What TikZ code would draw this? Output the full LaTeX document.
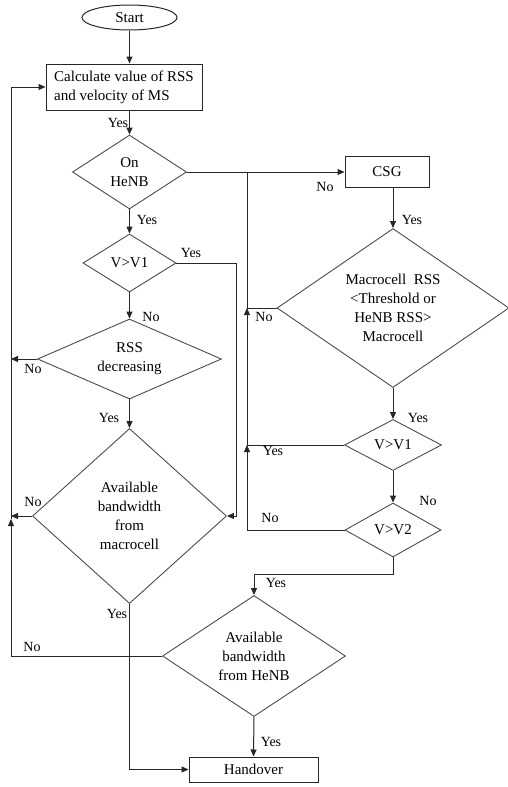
\documentclass[tikz,border=0pt]{standalone}
\usepackage{fontspec}
\setmainfont{Liberation Serif}
\usetikzlibrary{shapes.geometric,arrows.meta}
\newcommand\nodefont{\fontsize{15}{19}\selectfont}
\newcommand\labfont{\fontsize{14}{16}\selectfont}
\tikzset{
  ln/.style={draw=black!85, line width=1pt},
  arr/.style={ln, -{Triangle[length=7pt,width=6pt]}},
  dia/.style={diamond, draw=black!70, line width=0.9pt, inner sep=0pt, align=center, font=\nodefont},
  boxn/.style={rectangle, draw=black!85, line width=1pt, inner sep=0pt, align=center, font=\nodefont},
  lab/.style={inner sep=0pt, font=\labfont}
}
\begin{document}
\begin{tikzpicture}[x=1pt,y=-1pt]
\useasboundingbox (0,0) rectangle (508,787);
% nodes
\node[ellipse, draw=black!85, line width=1pt, minimum width=95pt, minimum height=25pt, inner sep=0pt, font=\nodefont] (start) at (129.5,17.5) {Start};
\node[boxn, minimum width=156pt, minimum height=46pt, align=left] (calc) at (124,87) {Calculate value of RSS\\and velocity of MS};
\node[dia, minimum width=114pt, minimum height=74pt, aspect=1.54] (onh) at (129.5,172) {On\\HeNB};
\node[dia, minimum width=93pt, minimum height=58pt, aspect=1.6] (va) at (129.5,263) {V>V1};
\node[dia, minimum width=184pt, minimum height=80pt, aspect=2.3] (rss) at (129.5,359) {RSS\\decreasing};
\node[dia, minimum width=194pt, minimum height=175pt, aspect=1.11] (avm) at (129.5,516) {Available\\bandwidth\\from\\macrocell};
\node[boxn, minimum width=84pt, minimum height=31pt] (csg) at (387,172) {CSG};
\node[dia, minimum width=232pt, minimum height=159pt, aspect=1.46] (mac) at (393,308) {Macrocell\ \ RSS\\<Threshold or\\HeNB RSS>\\Macrocell};
\node[dia, minimum width=97pt, minimum height=51pt, aspect=1.9] (vb) at (393,445) {V>V1};
\node[dia, minimum width=96pt, minimum height=54pt, aspect=1.78] (vc) at (393,530) {V>V2};
\node[dia, minimum width=183pt, minimum height=121pt, aspect=1.5] (hav) at (254,656) {Available\\bandwidth\\from HeNB};
\node[boxn, minimum width=129pt, minimum height=25pt] (ho) at (253.5,769.5) {Handover};
% helper coordinates
\coordinate (L) at (11,0);
\coordinate (Lj) at (11,519);
\coordinate (R) at (236,0);
\coordinate (M) at (247,0);
\coordinate (B) at (0,574);
% connectors left column
\draw[arr] (start.south) -- (start.south |- calc.north);
\draw[arr] (onh.north |- calc.south) -- (onh.north);
\draw[arr] (onh.south) -- (va.north);
\draw[arr] (va.south) -- (rss.north);
\draw[arr] (rss.south) -- (avm.north);
\draw[arr] (rss.west) -- (rss.west -| L);
\draw[arr] (avm.west) -- (avm.west -| L);
\draw[arr] (va.east) -- (va.east -| R) -- (avm.east -| R) -- (avm.east);
\draw[arr] (hav.west) -- (hav.west -| L) -- (Lj);
\draw[arr] (Lj) -- (calc.west -| L) -- (calc.west);
\draw[arr] (avm.south) -- (avm.south |- ho.west) -- (ho.west);
% right column
\draw[arr] (onh.east) -- (onh.east -| csg.west);
\draw[arr] (mac.north |- csg.south) -- (mac.north);
\draw[arr] (mac.south) -- (vb.north);
\draw[arr] (vb.south) -- (vc.north);
\draw[arr] (vc.west) -- (vc.west -| M) -- (vb.west -| M);
\draw[arr] (vb.west) -- (vb.west -| M) -- (mac.west -| M);
\draw[ln] (mac.west) -- (mac.west -| M) -- (onh.east -| M);
\draw[arr] (vc.south) -- (vc.south |- B) -- (hav.north |- B) -- (hav.north);
\draw[arr] (hav.south) -- (ho.north);
% labels
\node[lab] (l1) at (118,123) {Yes};
\node[lab] (l2) at (147,220) {Yes};
\node[lab] (l3) at (191,253) {Yes};
\node[lab] (l4) at (151,317) {No};
\node[lab] (l5) at (33,369) {No};
\node[lab] (l6) at (109,418) {Yes};
\node[lab] (l7) at (33,502) {No};
\node[lab] (l8) at (117,614) {Yes};
\node[lab] (l9) at (32,647) {No};
\node[lab] (l10) at (271,742) {Yes};
\node[lab] (l11) at (325,187) {No};
\node[lab] (l12) at (412,220) {Yes};
\node[lab] (l13) at (264,317) {No};
\node[lab] (l14) at (418,418) {Yes};
\node[lab] (l15) at (273,451) {Yes};
\node[lab] (l16) at (428,501) {No};
\node[lab] (l17) at (270,518) {No};
\node[lab] (l18) at (276,583) {Yes};
\end{tikzpicture}
\end{document}
